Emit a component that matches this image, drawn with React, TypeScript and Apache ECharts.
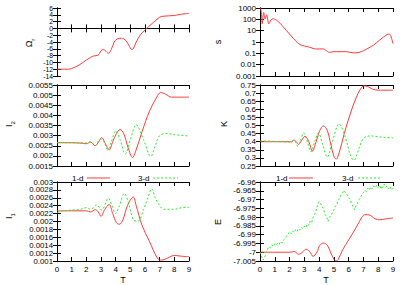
import React, { useEffect, useRef } from 'react';
import * as echarts from 'echarts';

// ---------- data ----------
const T_TICKS = [0, 1, 2, 3, 4, 5, 6, 7, 8, 9];
const OMEGA_TICKS = [-14, -12, -10, -8, -6, -4, -2, 0, 2, 4, 6];
const I2_TICKS = [0.0015, 0.002, 0.0025, 0.003, 0.0035, 0.004, 0.0045, 0.005, 0.0055];
const I1_TICKS = [0.001, 0.0012, 0.0014, 0.0016, 0.0018, 0.002, 0.0022, 0.0024, 0.0026, 0.0028, 0.003];
const S_TICKS = [0.001, 0.01, 0.1, 1, 10, 100, 1000];
const K_TICKS = [0.25, 0.3, 0.35, 0.4, 0.45, 0.5, 0.55, 0.6, 0.65, 0.7, 0.75];
const E_TICKS = [-7.005, -7, -6.995, -6.99, -6.985, -6.98, -6.975, -6.97, -6.965, -6.96];

const omegaR_1d: [number, number][] = [
  [0, -12], [0.5, -12], [0.8, -12], [1.0, -11.8], [1.5, -10.8], [2.0, -9.3], [2.3, -8.5], [2.5, -8.1],
  [2.8, -7.9], [3.0, -6.6], [3.15, -6.2], [3.3, -6.6], [3.5, -7.3], [3.7, -6.2], [3.9, -4.0], [4.1, -3.1],
  [4.4, -2.9], [4.7, -3.6], [4.9, -5.0], [5.1, -6.2], [5.2, -6.0], [5.4, -4.0], [5.7, -1.8], [6.0, -0.5],
  [6.5, 1.5], [7.0, 3.3], [7.3, 3.6], [8.0, 3.8], [8.5, 4.2], [9, 4.4],
];

const s_1d: [number, number][] = [
  [0, 1000], [0.08, 600], [0.15, 40], [0.25, 400], [0.35, 110], [0.45, 250], [0.6, 40], [0.75, 90],
  [0.9, 110], [1.2, 70], [1.5, 28], [1.8, 10], [2.1, 3.5], [2.4, 1.3], [2.7, 0.6], [3.0, 0.45],
  [3.35, 0.35], [3.7, 0.25], [4.0, 0.24], [4.25, 0.25], [4.5, 0.17], [4.7, 0.12], [5.0, 0.14], [5.5, 0.14],
  [5.85, 0.14], [6.3, 0.11], [6.7, 0.12], [7.0, 0.17], [7.2, 0.23], [7.7, 0.55], [8.1, 1.5], [8.6, 4.5],
  [8.75, 5], [8.85, 3.5], [9, 0.7],
];

const I2_1d: [number, number][] = [
  [0, 0.00265], [1, 0.00265], [1.8, 0.00262], [2.0, 0.0026], [2.3, 0.00268], [2.6, 0.0025], [2.85, 0.0027],
  [3.05, 0.0029], [3.3, 0.0026], [3.55, 0.00229], [3.8, 0.0027], [4.05, 0.0031], [4.3, 0.0033], [4.55, 0.0031],
  [4.85, 0.0024], [5.15, 0.00192], [5.35, 0.0022], [5.8, 0.0032], [6.3, 0.0042], [6.8, 0.0049], [7.07, 0.00513],
  [7.4, 0.00505], [7.8, 0.0049], [8.2, 0.0049], [9, 0.0049],
];
const I2_3d: [number, number][] = [
  [0, 0.00265], [1, 0.00265], [2, 0.00264], [2.3, 0.0027], [2.6, 0.0025], [2.95, 0.00283], [3.2, 0.0027],
  [3.45, 0.0023], [3.75, 0.0028], [4.0, 0.00323], [4.3, 0.0028], [4.65, 0.0021], [5.0, 0.0028], [5.4, 0.00354],
  [5.9, 0.0028], [6.4, 0.00198], [6.7, 0.0025], [7.0, 0.003], [7.5, 0.0031], [8.0, 0.00305], [9, 0.00298],
];

const K_1d: [number, number][] = [
  [0, 0.4], [1, 0.4], [2, 0.4], [2.15, 0.398], [2.3, 0.41], [2.45, 0.4], [2.6, 0.383], [2.8, 0.405],
  [3.05, 0.434], [3.3, 0.4], [3.55, 0.342], [3.8, 0.4], [4.05, 0.47], [4.3, 0.497], [4.55, 0.47], [4.8, 0.38],
  [5.0, 0.31], [5.15, 0.292], [5.35, 0.33], [5.7, 0.45], [6.1, 0.57], [6.5, 0.67], [6.8, 0.725], [7.05, 0.745],
  [7.3, 0.74], [7.6, 0.725], [8.0, 0.718], [9, 0.718],
];
const K_3d: [number, number][] = [
  [0, 0.405], [1, 0.402], [2, 0.398], [2.3, 0.41], [2.55, 0.373], [2.75, 0.41], [2.95, 0.454], [3.2, 0.4],
  [3.45, 0.337], [3.7, 0.4], [3.95, 0.454], [4.25, 0.38], [4.55, 0.305], [4.9, 0.4], [5.35, 0.51], [5.8, 0.42],
  [6.1, 0.32], [6.35, 0.285], [6.7, 0.36], [7.0, 0.42], [7.5, 0.436], [8.0, 0.43], [9, 0.423],
];

const I1_1d: [number, number][] = [
  [0, 0.00227], [1, 0.00227], [2, 0.00227], [2.3, 0.00224], [2.6, 0.0023], [2.8, 0.00225], [3.0, 0.00213],
  [3.25, 0.0023], [3.55, 0.00243], [3.8, 0.0022], [4.05, 0.00197], [4.25, 0.00193], [4.5, 0.00205], [4.8, 0.0024],
  [5.2, 0.00262], [5.4, 0.0024], [5.8, 0.0019], [6.3, 0.0015], [6.8, 0.0011], [7.05, 0.00102], [7.4, 0.00105],
  [8.0, 0.00114], [8.5, 0.00112], [9, 0.00111],
];
const I1_3d: [number, number][] = [
  [0, 0.00222], [0.3, 0.00226], [1, 0.00229], [1.5, 0.0023], [2.0, 0.00235], [2.3, 0.00231], [2.7, 0.00242],
  [3.05, 0.00229], [3.5, 0.00259], [3.75, 0.0024], [4.0, 0.0022], [4.25, 0.0024], [4.6, 0.00271], [4.85, 0.0025],
  [5.2, 0.00205], [5.5, 0.002], [5.9, 0.0023], [6.2, 0.0026], [6.45, 0.00283], [6.7, 0.0026], [7.0, 0.0024],
  [7.3, 0.00231], [8.0, 0.00231], [8.5, 0.00235], [9, 0.00236],
];

const E_1d: [number, number][] = [
  [0, -7.0], [1, -7.0], [2, -7.0], [2.2, -6.9998], [2.35, -6.9996], [2.6, -7.0012], [2.85, -7.0002],
  [3.1, -6.9983], [3.35, -6.9995], [3.6, -7.0024], [3.85, -7.0], [4.05, -6.996], [4.3, -6.9948], [4.55, -6.996],
  [4.8, -7.0005], [5.0, -7.004], [5.15, -7.005], [5.3, -7.004], [5.6, -6.9985], [6.0, -6.993], [6.5, -6.986],
  [6.9, -6.98], [7.1, -6.9786], [7.4, -6.9788], [7.8, -6.981], [8.1, -6.9815], [8.5, -6.981], [9, -6.9805],
];
const E_3d: [number, number][] = [
  [0.0, -7.0], [0.1, -7.0025], [0.2, -7.0045], [0.3, -7.0035], [0.4, -7.0005], [0.5, -6.9985], [0.6, -6.9968],
  [0.7, -6.9974], [0.8, -6.9958], [0.9, -6.9966], [1.0, -6.9952], [1.1, -6.996], [1.2, -6.9946], [1.3, -6.9954],
  [1.4, -6.994], [1.5, -6.9948], [1.6, -6.993], [1.7, -6.9922], [1.8, -6.9906], [1.9, -6.9896], [2.0, -6.9884],
  [2.1, -6.9894], [2.2, -6.9878], [2.3, -6.9888], [2.4, -6.9872], [2.5, -6.9882], [2.6, -6.9866], [2.7, -6.9874],
  [2.8, -6.9858], [2.9, -6.9866], [3.0, -6.9852], [3.1, -6.986], [3.2, -6.9838], [3.3, -6.9846], [3.4, -6.9822],
  [3.5, -6.983], [3.6, -6.98], [3.7, -6.9785], [3.8, -6.976], [3.9, -6.973], [4.0, -6.9712], [4.1, -6.9722],
  [4.2, -6.974], [4.3, -6.9752], [4.4, -6.9785], [4.5, -6.9795], [4.6, -6.9825], [4.7, -6.9802], [4.8, -6.979],
  [4.9, -6.9775], [5.0, -6.976], [5.1, -6.9738], [5.2, -6.9728], [5.3, -6.9705], [5.4, -6.969], [5.5, -6.9672],
  [5.6, -6.966], [5.7, -6.9648], [5.8, -6.9665], [5.9, -6.9672], [6.0, -6.969], [6.1, -6.97], [6.2, -6.9725],
  [6.3, -6.974], [6.4, -6.9758], [6.5, -6.9735], [6.6, -6.972], [6.7, -6.97], [6.8, -6.9688], [6.9, -6.9672],
  [7.0, -6.966], [7.1, -6.9648], [7.2, -6.9655], [7.3, -6.9635], [7.4, -6.9645], [7.5, -6.9628], [7.6, -6.964],
  [7.7, -6.9622], [7.8, -6.9632], [7.9, -6.9618], [8.0, -6.963], [8.1, -6.962], [8.2, -6.964], [8.3, -6.9628],
  [8.4, -6.9612], [8.5, -6.963], [8.6, -6.9622], [8.7, -6.964], [8.8, -6.9628], [8.9, -6.9645], [9.0, -6.9635],
];

const LEGEND_NAMES = ['1-d', '3-d'];

// ---------- styling ----------
const FONT = 'Liberation Sans, Arial, sans-serif';
const RED = '#ff3a3a';
const GREEN = '#22ee22';

type Panel = {
  left: number; top: number; width: number; height: number;
  ticks: number[]; log?: boolean;
  xLabels: boolean; yFont: number;
  red?: [number, number][]; green?: [number, number][];
};

const COLS = [{ left: 57, width: 132 }, { left: 260, width: 133 }];
const ROWS = [{ top: 8, height: 68 }, { top: 85, height: 81 }, { top: 182, height: 79 }];

const panels: Panel[] = [
  { ...COLS[0], ...ROWS[0], ticks: OMEGA_TICKS, xLabels: false, yFont: 6.8, red: omegaR_1d },
  { ...COLS[0], ...ROWS[1], ticks: I2_TICKS, xLabels: false, yFont: 8, red: I2_1d, green: I2_3d },
  { ...COLS[0], ...ROWS[2], ticks: I1_TICKS, xLabels: true, yFont: 7.8, red: I1_1d, green: I1_3d },
  { ...COLS[1], ...ROWS[0], ticks: S_TICKS, log: true, xLabels: false, yFont: 8, red: s_1d },
  { ...COLS[1], ...ROWS[1], ticks: K_TICKS, xLabels: false, yFont: 8, red: K_1d, green: K_3d },
  { ...COLS[1], ...ROWS[2], ticks: E_TICKS, xLabels: true, yFont: 8, red: E_1d, green: E_3d },
];

const axisLine = { show: true, lineStyle: { color: '#000', width: 1 } };
const tick = (values: number[]) => ({ show: true, inside: true, length: 4, customValues: values, lineStyle: { color: '#000', width: 1 } });
const fmt = (v: number) => String(Number(Number(v).toPrecision(8)));

const txt = (x: number, y: number, text: string, extra: any = {}) => ({
  type: 'text', x, y, silent: true,
  style: { text, fontFamily: FONT, fontSize: 8, fill: '#000', align: 'left', verticalAlign: 'middle', ...extra },
});
const seg = (x1: number, x2: number, y: number, color: string, dash?: number[]) => ({
  type: 'line', silent: true, shape: { x1, y1: y, x2, y2: y },
  style: { stroke: color, lineWidth: 1, lineDash: dash },
});
const rich = {
  a: { fontFamily: FONT, fontSize: 9, fill: '#000', lineHeight: 13 },
  b: { fontFamily: FONT, fontSize: 6, fill: '#000', lineHeight: 13, verticalAlign: 'bottom' },
};
const yTitle = (x: number, y: number, text: string) => ({
  type: 'text', x, y, rotation: Math.PI / 2, silent: true,
  style: { text, rich, fontFamily: FONT, fontSize: 9, fill: '#000', align: 'center', verticalAlign: 'middle' },
});

const staticGraphic = [
  // legends
  txt(72, 178, '1-d'), seg(87, 110, 178, RED),
  txt(138, 178, '3-d'), seg(153, 178, 178, GREEN, [2, 2]),
  txt(276, 178, '1-d'), seg(289, 313, 178, RED),
  txt(342, 178, '3-d'), seg(358, 382, 178, GREEN, [2, 2]),
  // x titles
  txt(123, 280, 'T', { align: 'center', fontSize: 9 }),
  txt(326, 280, 'T', { align: 'center', fontSize: 9 }),
  // y titles
  yTitle(29, 43, '{a|Ω}{b|r}'),
  yTitle(9, 124, '{a|I}{b|2}'),
  yTitle(9, 216, '{a|I}{b|1}'),
  yTitle(218, 42, '{a|s}'),
  yTitle(224, 124, '{a|K}'),
  yTitle(218, 222, '{a|E}'),
];

function buildOption() {
  const grid: any[] = [];
  const xAxis: any[] = [];
  const yAxis: any[] = [];
  const series: any[] = [];
  panels.forEach((p, i) => {
    grid.push({ left: p.left, top: p.top, width: p.width, height: p.height, containLabel: false });
    const xBase = { type: 'value', gridIndex: i, min: T_TICKS[0], max: T_TICKS[T_TICKS.length - 1], splitLine: { show: false }, axisLine, axisTick: tick(T_TICKS) };
    xAxis.push({ ...xBase, position: 'bottom', axisLabel: { show: p.xLabels, customValues: T_TICKS, color: '#000', fontFamily: FONT, fontSize: 8, margin: 4 } });
    xAxis.push({ ...xBase, position: 'top', axisLabel: { show: false } });
    const yMin = p.ticks[0];
    const yMax = p.ticks[p.ticks.length - 1];
    const yBase: any = p.log
      ? { type: 'log', logBase: 10, min: yMin, max: yMax }
      : { type: 'value', min: yMin, max: yMax };
    const yCommon = { ...yBase, gridIndex: i, splitLine: { show: false }, axisLine, axisTick: tick(p.ticks) };
    // tick labels are placed from the axis scale after layout (see effect)
    yAxis.push({ ...yCommon, position: 'left', axisLabel: { show: false } });
    yAxis.push({ ...yCommon, position: 'right', axisLabel: { show: false } });
    if (p.red) {
      series.push({ type: 'line', name: LEGEND_NAMES[0], xAxisIndex: 2 * i, yAxisIndex: 2 * i, data: p.red, showSymbol: false, symbol: 'none', smooth: 0.35, lineStyle: { color: RED, width: 1 }, itemStyle: { color: RED } });
    }
    if (p.green) {
      series.push({ type: 'line', name: LEGEND_NAMES[1], xAxisIndex: 2 * i, yAxisIndex: 2 * i, data: p.green, showSymbol: false, symbol: 'none', smooth: p.green === E_3d ? false : 0.35, lineStyle: { color: GREEN, width: 1, type: [2, 2] }, itemStyle: { color: GREEN } });
    }
  });

  return { animation: false, backgroundColor: '#fff', grid, xAxis, yAxis, series, graphic: staticGraphic };
}

export default function App() {
  const ref = useRef<HTMLDivElement>(null);
  useEffect(() => {
    if (!ref.current) return;
    const chart = echarts.init(ref.current, undefined, { renderer: 'svg' });
    chart.setOption(buildOption() as any);
    const labels: any[] = [];
    panels.forEach((p, i) => {
      p.ticks.forEach((v) => {
        const pt = chart.convertToPixel({ xAxisIndex: 2 * i, yAxisIndex: 2 * i } as any, [0, v]) as number[];
        if (!pt) return;
        labels.push(txt(pt[0] - 4, pt[1], fmt(v), { align: 'right', fontSize: p.yFont }));
      });
    });
    chart.setOption({ graphic: [...staticGraphic, ...labels] } as any, { replaceMerge: ['graphic'] } as any);
    return () => chart.dispose();
  }, []);
  return <div ref={ref} style={{ position: 'fixed', left: 0, top: 0, width: 407, height: 285 }} />;
}
